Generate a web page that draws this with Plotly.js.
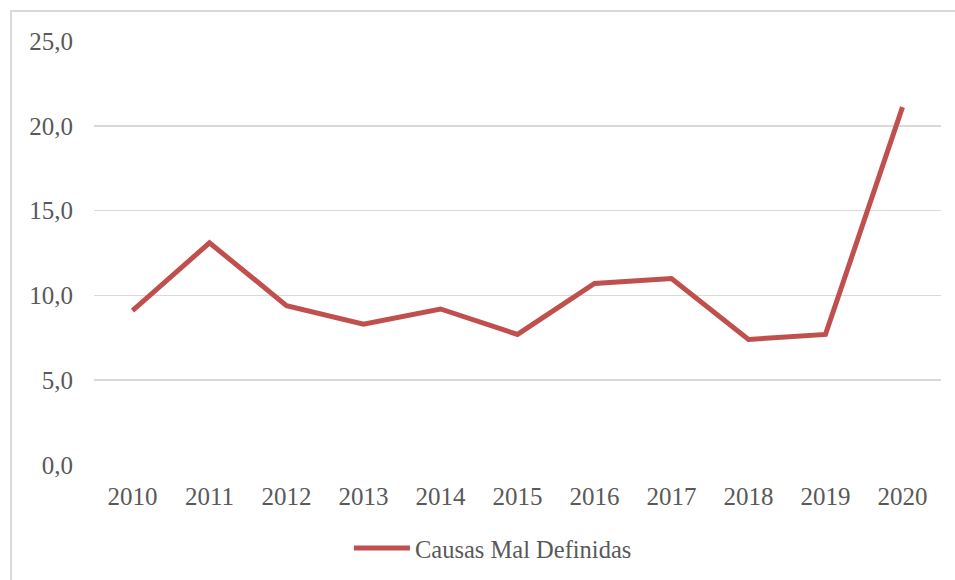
<!DOCTYPE html>
<html>
<head>
<meta charset="utf-8">
<script src="https://cdn.plot.ly/plotly-3.0.1.min.js"></script>
<style>
  body { margin: 0; background: #fff; }
  #frame { position: absolute; left: 10px; top: 10px; width: 1200px; height: 800px;
           border-left: 2px solid #d9d9d9; border-top: 2px solid #d9d9d9; }
  #plot { position: absolute; left: 0; top: 0; width: 955px; height: 580px; }
</style>
</head>
<body>
<div id="frame"></div>
<div id="plot"></div>
<script>
// Data
const years = ['2010', '2011', '2012', '2013', '2014', '2015', '2016', '2017', '2018', '2019', '2020'];
const causasMalDefinidas = [9.1, 13.1, 9.4, 8.3, 9.2, 7.7, 10.7, 11.0, 7.4, 7.7, 21.1];
const yTicks = [0, 5, 10, 15, 20, 25];
const yTickLabels = ['0,0', '5,0', '10,0', '15,0', '20,0', '25,0'];

const trace = {
  x: years,
  y: causasMalDefinidas,
  type: 'scatter',
  mode: 'lines',
  name: 'Causas Mal Definidas',
  line: { color: '#c0504d', width: 5 }
};

const layout = {
  width: 955,
  height: 580,
  margin: { l: 94, r: 14, t: 40.5, b: 114.5, autoexpand: false },
  paper_bgcolor: 'rgba(0,0,0,0)',
  plot_bgcolor: 'rgba(0,0,0,0)',
  font: { family: 'Liberation Serif, serif', size: 25, color: '#595959' },
  showlegend: true,
  legend: {
    orientation: 'h',
    x: 0.471, xanchor: 'center',
    y: -0.196, yanchor: 'middle',
    itemwidth: 56,
    font: { size: 24.5, color: '#595959' }
  },
  xaxis: {
    type: 'category',
    range: [-0.5, 10.5],
    showgrid: false,
    zeroline: false,
    showline: false,
    ticks: '',
    ticklabelstandoff: 14,
    fixedrange: true
  },
  yaxis: {
    range: [0, 25],
    tickvals: yTicks,
    ticktext: yTickLabels,
    showgrid: true,
    gridcolor: '#d9d9d9',
    gridwidth: 1.5,
    zeroline: false,
    showline: false,
    ticks: '',
    ticklabelstandoff: 20,
    fixedrange: true
  }
};

Plotly.newPlot('plot', [trace], layout, { displayModeBar: false, staticPlot: true });
</script>
</body>
</html>
